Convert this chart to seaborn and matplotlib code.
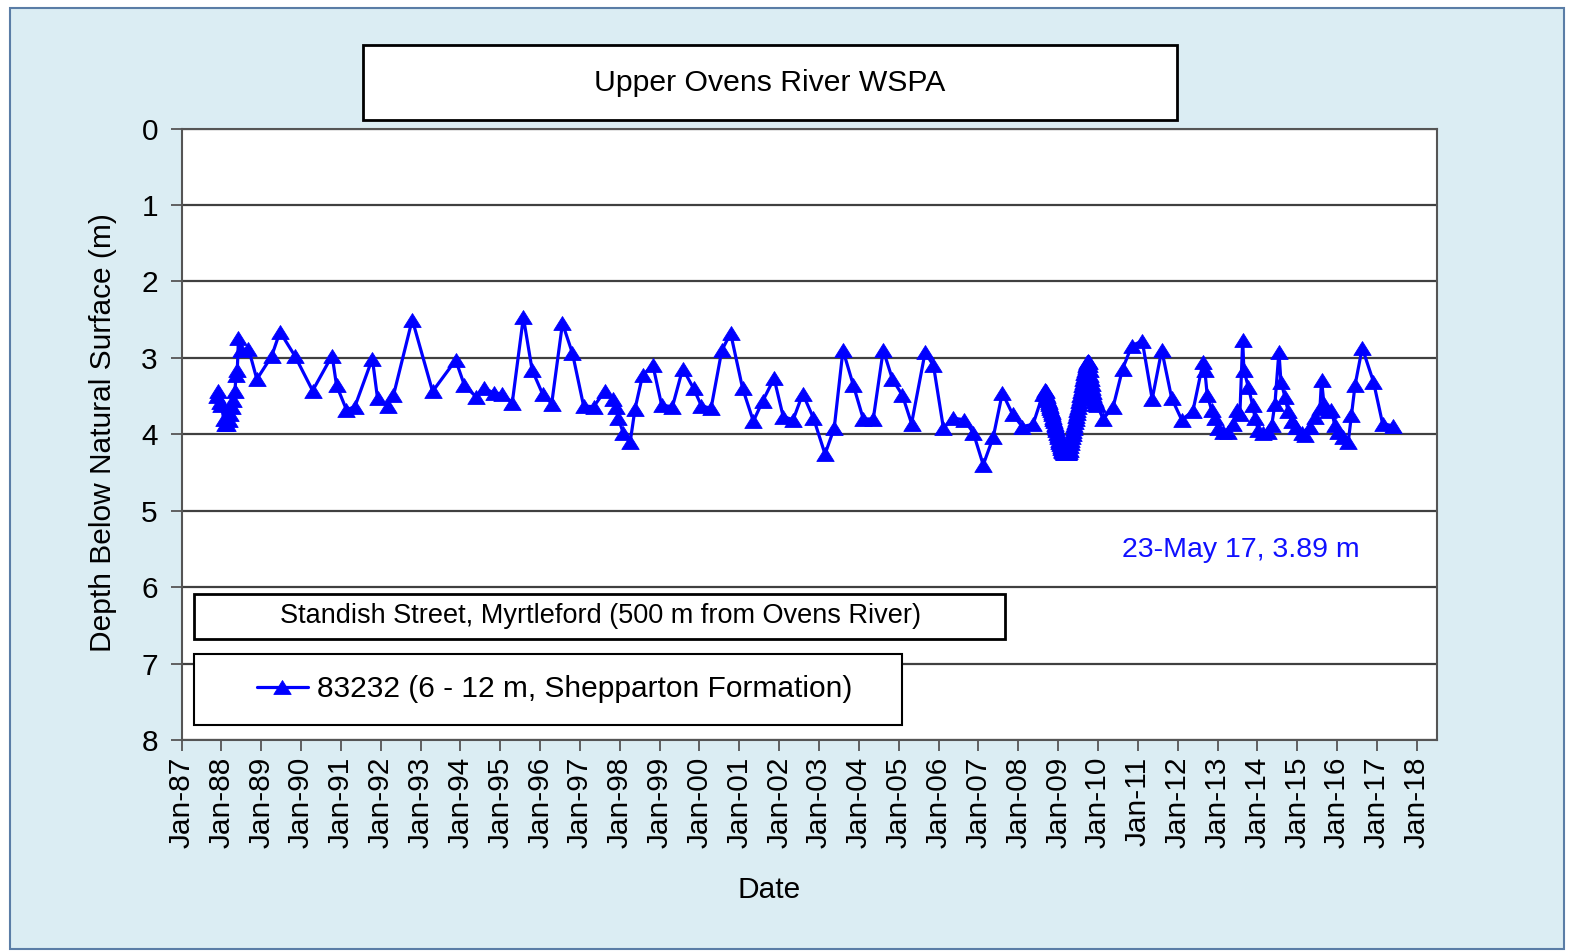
import numpy as np
import pandas as pd
import matplotlib
matplotlib.use("Agg")
import matplotlib.pyplot as plt
import matplotlib.dates as mdates
from matplotlib.patches import Rectangle
from matplotlib.path import Path
import seaborn as sns

# ---------------- data (decimal year, depth below natural surface in m) ----------------
# manual readings 1987 - mid 2008
years_manual = [
    1987.88, 1987.92, 1987.96, 1988.00, 1988.06, 1988.10, 1988.14, 1988.18, 1988.22, 1988.26,
    1988.30, 1988.34, 1988.37, 1988.40, 1988.43, 1988.50, 1988.68, 1988.89, 1989.26, 1989.47,
    1989.85, 1990.29, 1990.78, 1990.89, 1991.14, 1991.35, 1991.79, 1991.92, 1992.17, 1992.32,
    1992.79, 1993.30, 1993.88, 1994.10, 1994.39, 1994.58, 1994.83, 1995.04, 1995.30, 1995.58,
    1995.80, 1996.06, 1996.29, 1996.56, 1996.81, 1997.09, 1997.34, 1997.63, 1997.84, 1997.90,
    1997.96, 1998.09, 1998.26, 1998.38, 1998.57, 1998.83, 1999.05, 1999.32, 1999.58, 1999.85,
    2000.05, 2000.29, 2000.56, 2000.78, 2001.08, 2001.35, 2001.58, 2001.87, 2002.10, 2002.35,
    2002.59, 2002.86, 2003.15, 2003.38, 2003.60, 2003.86, 2004.11, 2004.36, 2004.61, 2004.84,
    2005.09, 2005.32, 2005.66, 2005.87, 2006.12, 2006.37, 2006.64, 2006.87, 2007.12, 2007.37,
    2007.60, 2007.86, 2008.10, 2008.37, 2008.62,
]
depth_manual = [
    3.50, 3.44, 3.58, 3.62, 3.80, 3.86, 3.87, 3.82, 3.74, 3.64,
    3.55, 3.44, 3.22, 3.16, 2.74, 2.90, 2.88, 3.28, 2.98, 2.66,
    2.98, 3.43, 2.97, 3.36, 3.68, 3.64, 3.01, 3.53, 3.63, 3.49,
    2.50, 3.44, 3.03, 3.36, 3.51, 3.39, 3.46, 3.47, 3.59, 2.47,
    3.16, 3.47, 3.60, 2.55, 2.94, 3.63, 3.64, 3.43, 3.54, 3.65,
    3.79, 3.99, 4.10, 3.67, 3.23, 3.10, 3.62, 3.64, 3.14, 3.40,
    3.63, 3.66, 2.90, 2.68, 3.40, 3.83, 3.57, 3.27, 3.77, 3.81,
    3.47, 3.79, 4.26, 3.92, 2.90, 3.36, 3.80, 3.80, 2.90, 3.28,
    3.49, 3.86, 2.93, 3.10, 3.92, 3.79, 3.81, 3.98, 4.40, 4.04,
    3.46, 3.74, 3.90, 3.87, 3.47,
]
# dense logger record, late 2008 - end 2009
years_logger = [
    2008.670, 2008.685, 2008.700, 2008.715, 2008.730, 2008.745, 2008.760, 2008.775, 2008.790, 2008.805,
    2008.820, 2008.835, 2008.850, 2008.865, 2008.880, 2008.895, 2008.910, 2008.925, 2008.940, 2008.955,
    2008.970, 2008.985, 2009.000, 2009.015, 2009.030, 2009.045, 2009.060, 2009.075, 2009.090, 2009.105,
    2009.120, 2009.135, 2009.150, 2009.165, 2009.180, 2009.195, 2009.210, 2009.225, 2009.240, 2009.255,
    2009.270, 2009.285, 2009.300, 2009.315, 2009.330, 2009.345, 2009.360, 2009.375, 2009.390, 2009.405,
    2009.420, 2009.435, 2009.450, 2009.465, 2009.480, 2009.495, 2009.510, 2009.525, 2009.540, 2009.555,
    2009.570, 2009.585, 2009.600, 2009.615, 2009.630, 2009.645, 2009.660, 2009.675, 2009.690, 2009.705,
    2009.720, 2009.735, 2009.750, 2009.765, 2009.780, 2009.795, 2009.810, 2009.825, 2009.840, 2009.855,
    2009.870, 2009.885, 2009.900, 2009.915, 2009.930, 2009.945, 2009.960, 2009.975,
]
depth_logger = [
    3.42, 3.44, 3.47, 3.50, 3.52, 3.55, 3.58, 3.60, 3.63, 3.66,
    3.68, 3.71, 3.74, 3.77, 3.80, 3.83, 3.86, 3.89, 3.92, 3.95,
    3.98, 4.01, 4.04, 4.07, 4.10, 4.13, 4.16, 4.18, 4.20, 4.22,
    4.23, 4.24, 4.25, 4.25, 4.25, 4.25, 4.25, 4.25, 4.25, 4.24,
    4.23, 4.20, 4.16, 4.12, 4.08, 4.04, 4.00, 3.96, 3.92, 3.88,
    3.84, 3.80, 3.76, 3.72, 3.68, 3.64, 3.60, 3.56, 3.52, 3.48,
    3.44, 3.40, 3.36, 3.32, 3.28, 3.24, 3.20, 3.16, 3.12, 3.09,
    3.07, 3.05, 3.04, 3.06, 3.10, 3.16, 3.22, 3.28, 3.34, 3.40,
    3.45, 3.49, 3.52, 3.55, 3.57, 3.59, 3.60, 3.62,
]
# manual readings 2010 - 2017
years_recent = [
    2010.13, 2010.38, 2010.62, 2010.85, 2011.11, 2011.36, 2011.60, 2011.85, 2012.10, 2012.38,
    2012.64, 2012.68, 2012.74, 2012.85, 2012.94, 2013.02, 2013.14, 2013.27, 2013.39, 2013.48,
    2013.56, 2013.63, 2013.66, 2013.77, 2013.88, 2013.94, 2014.02, 2014.15, 2014.27, 2014.36,
    2014.44, 2014.54, 2014.59, 2014.69, 2014.77, 2014.86, 2014.98, 2015.11, 2015.19, 2015.32,
    2015.44, 2015.57, 2015.61, 2015.67, 2015.77, 2015.86, 2015.94, 2016.03, 2016.15, 2016.28,
    2016.36, 2016.45, 2016.63, 2016.91, 2017.14, 2017.39,
]
depth_recent = [
    3.80, 3.64, 3.14, 2.84, 2.78, 3.54, 2.90, 3.53, 3.81, 3.70,
    3.05, 3.16, 3.49, 3.68, 3.79, 3.92, 3.97, 3.97, 3.86, 3.68,
    3.73, 2.77, 3.16, 3.38, 3.62, 3.79, 3.94, 3.99, 3.97, 3.88,
    3.60, 2.92, 3.31, 3.51, 3.70, 3.83, 3.90, 3.99, 4.01, 3.90,
    3.77, 3.66, 3.29, 3.60, 3.70, 3.68, 3.88, 3.97, 4.03, 4.10,
    3.75, 3.36, 2.87, 3.31, 3.86, 3.89,
]
y_ticks = [0, 1, 2, 3, 4, 5, 6, 7, 8]
series_label = "83232 (6 - 12 m, Shepparton Formation)"
title_text = "Upper Ovens River WSPA"
site_text = "Standish Street, Myrtleford (500 m from Ovens River)"
last_text = "23-May 17, 3.89 m"

years = years_manual + years_logger + years_recent
depth = depth_manual + depth_logger + depth_recent

# convert decimal years to timestamps
def dec_to_ts(y):
    yr = int(np.floor(y))
    start = pd.Timestamp(year=yr, month=1, day=1)
    end = pd.Timestamp(year=yr + 1, month=1, day=1)
    return start + (end - start) * (y - yr)

df = pd.DataFrame({"date": [dec_to_ts(y) for y in years], "depth": depth})

# ---------------- style ----------------
sns.set_style("ticks")
plt.rcParams["font.family"] = ["Liberation Sans", "DejaVu Sans"]
plt.rcParams["text.color"] = "black"
plt.rcParams["axes.labelcolor"] = "black"

W, H = 1575, 952
fig = plt.figure(figsize=(W / 100, H / 100), dpi=100)
fig.patch.set_facecolor("white")

def fx(x):
    return x / W

def fy(y):
    return 1 - y / H

# light blue chart area with border
fig.add_artist(Rectangle((fx(10), fy(949)), (1564 - 10) / W, (949 - 8) / H,
                         transform=fig.transFigure, facecolor="#DBEDF3",
                         edgecolor="#5A7DA6", lw=1.5, zorder=-10))

ax = fig.add_axes([fx(181.5), fy(740), (1437 - 181.5) / W, (740 - 128.5) / H])
ax.set_facecolor("white")

# slightly wide triangle marker (Excel style)
tri = Path([(0, 0.8), (-1, -0.8), (1, -0.8), (0, 0.8)],
           [Path.MOVETO, Path.LINETO, Path.LINETO, Path.CLOSEPOLY])

sns.lineplot(data=df, x="date", y="depth", ax=ax, sort=False, color="#0000FF",
             linewidth=2.3, marker=tri, markersize=12.5, markeredgecolor="#0000FF",
             markerfacecolor="#0000FF", markeredgewidth=0.6, legend=False, zorder=3)

ax.set_ylim(8, 0)
ax.set_yticks(y_ticks)
ax.set_xlim(pd.Timestamp("1987-01-01"), pd.Timestamp("2018-07-05"))
ax.xaxis.set_major_locator(mdates.YearLocator(1, month=1, day=1))
ax.xaxis.set_major_formatter(mdates.DateFormatter("%b-%y"))
ax.yaxis.grid(True, color="#404040", lw=1.6, zorder=1)
ax.xaxis.grid(False)
ax.set_axisbelow(True)
for s in ax.spines.values():
    s.set_visible(True)
    s.set_color("#555555")
    s.set_linewidth(1.5)
ax.tick_params(axis="both", direction="out", length=8, width=1.3, color="#555555",
               labelsize=21.5, labelcolor="black", pad=4)
ax.tick_params(axis="y", pad=9)
ax.tick_params(axis="x", labelrotation=90)
ax.set_xlabel("")
ax.set_ylabel("")

# axis labels
fig.text(fx(103), fy(433), "Depth Below Natural Surface (m)", rotation=90,
         ha="center", va="center", fontsize=21.5)
fig.text(fx(769), fy(890), "Date", ha="center", va="center", fontsize=21.5)

# title box
fig.add_artist(Rectangle((fx(363), fy(120)), (1177 - 363) / W, (120 - 45) / H,
                         transform=fig.transFigure, facecolor="white",
                         edgecolor="black", lw=2, zorder=5))
fig.text(fx(770), fy(83), title_text, ha="center", va="center", fontsize=21.7, zorder=6)

# site box
fig.add_artist(Rectangle((fx(194), fy(639)), (1005 - 194) / W, (639 - 594) / H,
                         transform=fig.transFigure, facecolor="white",
                         edgecolor="black", lw=2, zorder=5))
fig.text(fx(600), fy(616), site_text, ha="center", va="center", fontsize=19.5, zorder=6)

# legend box
fig.add_artist(Rectangle((fx(194), fy(725)), (902 - 194) / W, (725 - 654) / H,
                         transform=fig.transFigure, facecolor="white",
                         edgecolor="black", lw=1.5, zorder=5))
handle = ax.get_lines()[0]
leg = fig.legend([handle], [series_label], loc="center left",
                 bbox_to_anchor=(fx(257), fy(689)), bbox_transform=fig.transFigure,
                 frameon=False, fontsize=21.5, handlelength=1.7, handletextpad=0.3,
                 borderpad=0, borderaxespad=0)
leg.set_zorder(7)

# last reading annotation
fig.text(fx(1241), fy(550), last_text, ha="center", va="center", fontsize=20.5,
         color="#1010FF", zorder=6)

fig.savefig("out.png", dpi=100, facecolor=fig.get_facecolor())
